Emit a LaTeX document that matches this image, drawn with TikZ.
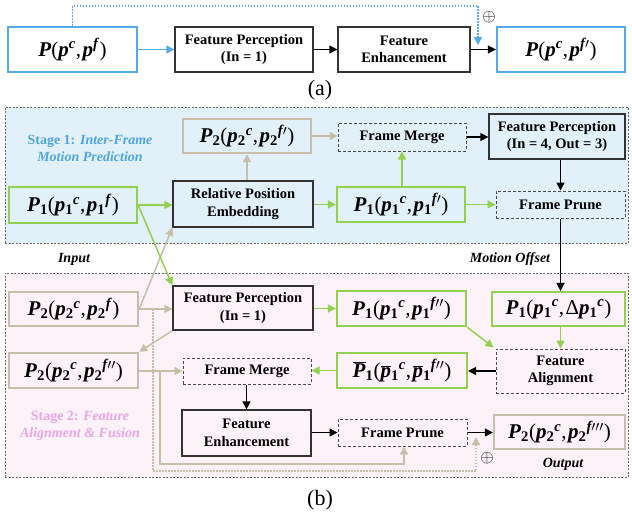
\documentclass[tikz,border=0pt]{standalone}
\usepackage{fontspec}
\setmainfont{Liberation Serif}
\usetikzlibrary{arrows.meta,calc}
\definecolor{cblue}{RGB}{84,170,228}
\definecolor{cgreen}{RGB}{146,208,80}
\definecolor{ctan}{RGB}{200,189,168}
\definecolor{bluebg}{RGB}{226,240,250}
\definecolor{pinkbg}{RGB}{253,242,247}
\definecolor{stageblue}{RGB}{78,166,221}
\definecolor{stagepink}{RGB}{232,166,226}
\newcommand\bi[1]{\textbf{\textit{#1}}}
\newcommand\sbx[1]{\textsubscript{\textbf{#1}}}
\newcommand\spx[1]{\textsuperscript{\bi{#1}}}
\newcommand\prm{$\prime$}
\newcommand\barP{$\overline{\hbox{\bi{P}}}$}
\newcommand\barp{$\overline{\hbox{\bi{p}}}$}
\newcommand\cm{,\hspace{1.5pt}}
\tikzset{
  every node/.style={inner sep=0pt, align=center},
  sz/.style 2 args={minimum width=#1pt, minimum height=#2pt},
  lbl/.style={font=\fontsize{14.5}{17.5}\selectfont\bfseries},
  mth/.style={font=\fontsize{21}{23}\selectfont},
  blk/.style={draw=black!80, line width=1.3pt, lbl},
  dsh/.style={draw=black!70, line width=1pt, dash pattern=on 3pt off 2pt, lbl},
  bluebox/.style={draw=cblue, line width=2.2pt, mth},
  greenbox/.style={draw=cgreen, line width=2.2pt, mth},
  tanbox/.style={draw=ctan, line width=2.4pt, mth},
  tip/.style={-{Triangle[length=8pt,width=8pt]}},
  karr/.style={draw=black, line width=1.4pt, tip},
  garr/.style={draw=cgreen, line width=1.5pt, tip},
  tarr/.style={draw=ctan, line width=1.5pt, tip},
  barr/.style={draw=cblue, line width=1.6pt, tip},
  region/.style={draw=black!60, line width=0.9pt, dash pattern=on 2pt off 1.5pt},
  dotline/.style={line width=1.3pt, dash pattern=on 1.5pt off 1.5pt},
  note/.style={font=\fontsize{14}{16}\selectfont\bfseries\itshape},
}
\begin{document}
\begin{tikzpicture}[x=1pt,y=-1pt]
\useasboundingbox (0,0) rectangle (632,517);
% ---------------- (a)
\node[bluebox, sz={129}{45}] (a1) at (72.5,49.5) {\bi{P}(\bi{p}\spx{c}\cm\bi{p}\spx{f})};
\node[blk, sz={138}{45}] (a2) at (244,49.5) {Feature Perception\\(In = 1)};
\node[blk, sz={132}{45}] (a3) at (404,49.5) {Feature\\Enhancement};
\node[bluebox, sz={128}{45}] (a4) at (561,49.5) {\bi{P}(\bi{p}\spx{c}\cm\bi{p}\spx{f\prm})};
\draw[barr] (a1) -- (a2);
\draw[karr] (a2) -- (a3);
\draw[karr] (a3) -- (a4);
\coordinate (adot) at (478,45);
\draw[barr, dotline] (a1.north) -- ++(0,-20) -| (adot);
\node[font=\fontsize{16}{16}\selectfont] (aplus) at (489,17) {$\oplus$};
\node[font=\fontsize{22}{24}\selectfont] (acap) at (320,90) {(a)};
% ---------------- regions
\node[region, fill=bluebg, sz={623}{136}] (r1) at (316.5,175) {};
\node[region, fill=pinkbg, sz={623}{204}] (r2) at (316.5,375) {};
% ---------------- stage 1
\node[font=\fontsize{14}{17}\selectfont\bfseries, text=stageblue] (s1) at (90,148) {Stage 1: \textit{Inter-Frame}\\\textit{Motion Prediction}};
\node[greenbox, sz={128}{36}] (bp1) at (73,205) {\bi{P}\sbx{1}(\bi{p}\sbx{1}\spx{c}\cm\bi{p}\sbx{1}\spx{f})};
\node[blk, sz={140}{46}] (brpe) at (243,204) {Relative Position\\Embedding};
\node[tanbox, sz={128}{34}] (bp2) at (247,136) {\bi{P}\sbx{2}(\bi{p}\sbx{2}\spx{c}\cm\bi{p}\sbx{2}\spx{f\prm})};
\node[dsh, sz={128}{28}] (bfm) at (402,137) {Frame Merge};
\node[blk, sz={136}{45}] (bfp) at (557,136.5) {Feature Perception\\(In = 4, Out = 3)};
\node[greenbox, sz={128}{35}] (bp1b) at (401,204.5) {\bi{P}\sbx{1}(\bi{p}\sbx{1}\spx{c}\cm\bi{p}\sbx{1}\spx{f\prm})};
\node[dsh, sz={129}{27}] (bpr) at (560.5,204.5) {Frame Prune};
\node[note] (inp) at (74,259) {Input};
\node[note] (mo) at (510,259) {Motion Offset};
% ---------------- stage 2
\node[font=\fontsize{14}{17}\selectfont\bfseries, text=stagepink] (s2) at (80,426) {Stage 2: \textit{Feature}\\\textit{Alignment \& Fusion}};
\node[tanbox, sz={129}{34}] (cp2) at (73.5,309) {\bi{P}\sbx{2}(\bi{p}\sbx{2}\spx{c}\cm\bi{p}\sbx{2}\spx{f})};
\node[blk, sz={140}{44}] (cfp) at (243,308) {Feature Perception\\(In = 1)};
\node[greenbox, sz={129}{35}] (cp1) at (401.5,308.5) {\bi{P}\sbx{1}(\bi{p}\sbx{1}\spx{c}\cm\bi{p}\sbx{1}\spx{f\prm\prm})};
\node[greenbox, sz={133}{34}] (cpd) at (558.5,309) {\bi{P}\sbx{1}(\bi{p}\sbx{1}\spx{c}\cm Δ\bi{p}\sbx{1}\spx{c})};
\node[tanbox, sz={129}{35}] (cp2b) at (73.5,370.5) {\bi{P}\sbx{2}(\bi{p}\sbx{2}\spx{c}\cm\bi{p}\sbx{2}\spx{f\prm\prm})};
\node[dsh, sz={128}{26}] (cfm) at (247,371) {Frame Merge};
\node[greenbox, sz={130}{35}] (cpb) at (402,370.5) {\barP\sbx{1}(\barp\sbx{1}\spx{c}\cm\barp\sbx{1}\spx{f\prm\prm})};
\node[dsh, sz={129}{44}] (cfa) at (560.5,371) {Feature\\Alignment};
\node[blk, sz={129}{46}] (cfe) at (246.5,433) {Feature\\Enhancement};
\node[dsh, sz={129}{27}] (cpr) at (402.5,432.5) {Frame Prune};
\node[tanbox, sz={131}{34}] (cp2c) at (559.5,432) {\bi{P}\sbx{2}(\bi{p}\sbx{2}\spx{c}\cm\bi{p}\sbx{2}\spx{f\prm\prm\prm})};
\node[note] (outp) at (563,464) {Output};
\node[font=\fontsize{16}{16}\selectfont] (bplus) at (487,458) {$\oplus$};
\node[font=\fontsize{22}{24}\selectfont] (bcap) at (320,500) {(b)};
% ---------------- stage 1 connectors
\draw[tarr] (cp2.east) -- (brpe.south west);
\draw[garr] (bp1.east) -- (brpe.west |- bp1.east);
\draw[garr] (bp1.east) -- (cfp.north west);
\draw[tarr] (bp2.south |- brpe.north) -- (bp2.south);
\draw[garr] (brpe.east |- bp1b.west) -- (bp1b.west);
\draw[garr] (bfm.south |- bp1b.north) -- (bfm.south);
\draw[tarr] (bp2.east) -- (bfm.west |- bp2.east);
\draw[karr] (bfm.east) -- (bfp.west |- bfm.east);
\draw[karr] (bpr.north |- bfp.south) -- (bpr.north);
\draw[garr] (bp1b.east) -- (bpr.west);
\draw[karr] (bpr.south) -- (bpr.south |- cpd.north);
% ---------------- stage 2 connectors
\coordinate (d1) at (153,309);
\coordinate (d2) at (476,437);
\draw[ctan, dotline, tip] (d1) -- ++(0,162) -| (d2);
\draw[tarr] (cp2.east) -- (cfp.west |- cp2.east);
\draw[garr] (cfp.east |- cp1.west) -- (cp1.west);
\draw[tarr] (cfp.south west) -- (cp2b.north east);
\draw[garr] (cp1.south east) -- ($(cfa.north west)+(-2,-1)$);
\draw[garr] (cfa.north -| bpr.south) ++(0,-23) coordinate (g1) -- (g1 |- cfa.north);
\draw[karr] (cfa.west) -- (cpb.east |- cfa.west);
\draw[garr] (cpb.west) -- (cfm.east |- cpb.west);
\coordinate (t1) at (160,371);
\draw[tarr] (cp2b.east |- cfm.west) -- (cfm.west);
\draw[tarr] (t1) -- ++(0,93) -| ($(cpr.south)+(1.5,0)$);
\draw[karr] (cfm.south -| cfe.north) -- (cfe.north);
\draw[karr] (cfe.east |- cpr.west) -- (cpr.west);
\draw[karr] (cpr.east) -- (cp2c.west |- cpr.east);
\end{tikzpicture}
\end{document}
